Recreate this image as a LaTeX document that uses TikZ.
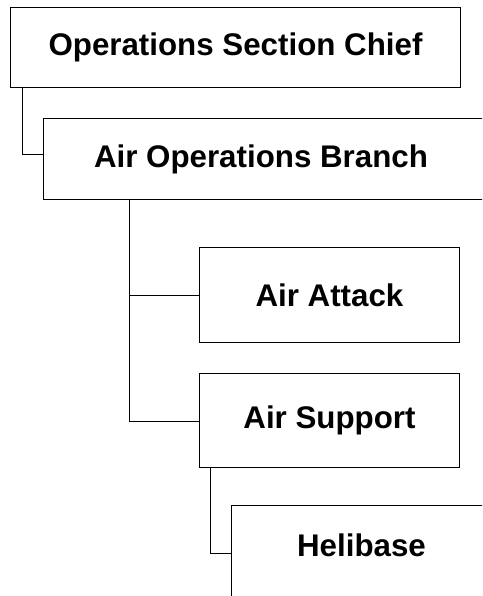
\documentclass[tikz,border=0pt]{standalone}
\usepackage{fontspec}
\setmainfont{Liberation Sans}
\begin{document}
\begin{tikzpicture}[x=1pt,y=-1pt,
  box/.style={draw,line width=1pt,inner sep=0pt,anchor=north west},
  lbl/.style={font=\fontsize{31.3}{36}\selectfont\bfseries,inner sep=0pt},
  conn/.style={line width=1pt}]
\useasboundingbox (0,0) rectangle (482,596);
\clip (0,0) rectangle (482,596);
% boxes
\node[box,minimum width=450pt,minimum height=80pt] (osc) at (10,7) {};
\node[box,minimum width=452pt,minimum height=81pt] (aob) at (43,118) {};
\node[box,minimum width=260pt,minimum height=95pt] (aa) at (199,247) {};
\node[box,minimum width=260pt,minimum height=94pt] (as) at (199,373) {};
\node[box,minimum width=262pt,minimum height=95pt] (hb) at (231,505) {};
% labels
\node[lbl] (tosc) at (osc.center) {Operations Section Chief};
\node[lbl] (taob) at (261,159) {Air Operations Branch};
\node[lbl] (taa) at (aa.center) {Air Attack};
\node[lbl] (tas) at (as.center) {Air Support};
\node[lbl] (thb) at (361.5,545) {Helibase};
% connector anchor points
\coordinate (c1) at (22,87);
\coordinate (c2) at (129,199);
\coordinate (c3) at (210,467);
% connectors
\draw[conn] (c1) |- (aob.west |- 0,155);
\draw[conn] (c2) |- (aa.west);
\draw[conn] (c2) |- (as.west |- 0,421);
\draw[conn] (c3) |- (hb.west |- 0,553);
\end{tikzpicture}
\end{document}
